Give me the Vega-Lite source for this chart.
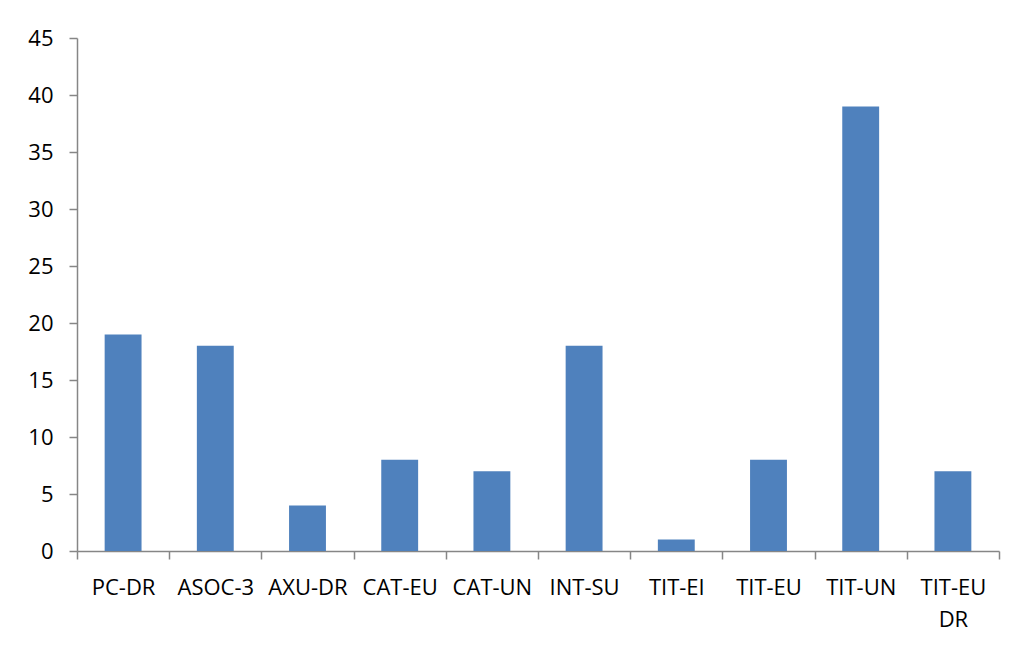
{
  "$schema": "https://vega.github.io/schema/vega-lite/v6.json",
  "width": 922,
  "height": 513,
  "autosize": {"type": "none"},
  "padding": {"left": 77, "top": 38, "right": 17, "bottom": 95},
  "background": "white",
  "config": {
    "view": {"stroke": null},
    "axis": {"grid": false, "domainColor": "#868686", "tickColor": "#868686", "domainWidth": 1.5, "tickWidth": 1.5, "labelColor": "#000000", "labelFont": "Open Sans", "labelFontSize": 22, "titleFontSize": 0}
  },
  "data": {
    "values": [
      {"cat": "PC-DR", "value": 19},
      {"cat": "ASOC-3", "value": 18},
      {"cat": "AXU-DR", "value": 4},
      {"cat": "CAT-EU", "value": 8},
      {"cat": "CAT-UN", "value": 7},
      {"cat": "INT-SU", "value": 18},
      {"cat": "TIT-EI", "value": 1},
      {"cat": "TIT-EU", "value": 8},
      {"cat": "TIT-UN", "value": 39},
      {"cat": "TIT-EU DR", "value": 7}
    ]
  },
  "mark": {"type": "bar", "color": "#4F81BD", "width": {"band": 0.4}},
  "encoding": {
    "x": {
      "field": "cat", "type": "nominal", "sort": null, "title": null,
      "scale": {"paddingInner": 0, "paddingOuter": 0},
      "axis": {"labelAngle": 0, "tickBand": "extent", "tickSize": 8, "labelPadding": 18, "labelLineHeight": 32, "labelExpr": "datum.value == 'TIT-EU DR' ? ['TIT-EU', 'DR'] : datum.value"}
    },
    "y": {
      "field": "value", "type": "quantitative", "title": null,
      "scale": {"domain": [0, 45], "nice": false},
      "axis": {"values": [0, 5, 10, 15, 20, 25, 30, 35, 40, 45], "tickSize": 8, "labelPadding": 16}
    }
  }
}
